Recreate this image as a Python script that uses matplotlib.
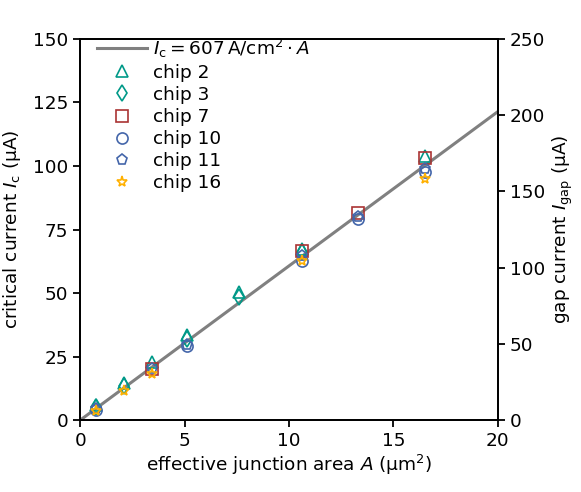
import numpy as np
import matplotlib
matplotlib.use("Agg")
import matplotlib.pyplot as plt

plt.rcParams['font.size'] = 13.3
plt.rcParams['mathtext.fontset'] = 'dejavusans'
plt.rcParams['axes.linewidth'] = 1.3
plt.rcParams['xtick.major.width'] = 1.3
plt.rcParams['ytick.major.width'] = 1.3
plt.rcParams['xtick.major.size'] = 5
plt.rcParams['ytick.major.size'] = 5

# critical current per chip: (area in um^2, Ic in uA)
chip2_A = [0.75, 2.1, 3.45, 5.1, 7.6, 10.6, 16.5]
chip2_I = [6.0, 14.5, 23.0, 33.5, 50.5, 67.5, 104.0]
chip3_A = [0.75, 2.1, 5.1, 7.6, 10.6]
chip3_I = [5.0, 13.5, 32.0, 48.5, 66.0]
chip7_A = [3.45, 10.6, 13.3, 16.5]
chip7_I = [20.0, 66.5, 81.5, 103.0]
chip10_A = [0.75, 5.1, 10.6, 13.3, 16.5]
chip10_I = [4.0, 29.0, 62.5, 79.0, 97.5]
chip11_A = [0.75, 3.45, 5.1, 10.6, 13.3, 16.5]
chip11_I = [4.5, 20.0, 29.5, 64.5, 80.0, 99.0]
chip16_A = [0.75, 2.1, 3.45, 10.6, 16.5]
chip16_I = [3.5, 11.5, 18.0, 62.5, 95.0]

jc = 607  # A/cm^2 -> 6.07 uA per um^2
fit_A = np.array([0, 20])

fig = plt.figure(figsize=(5.81, 4.92), dpi=100)
ax = fig.add_axes([0.138, 0.146, 0.719, 0.775])

ax.plot(fit_A, jc * 1e-2 * fit_A, color='gray', lw=2.2,
        label=r'$I_\mathrm{c} = 607\,\mathrm{A/cm^2} \cdot A$', zorder=1)

teal = '#009988'
red = '#aa3333'
blue = '#4466aa'
gold = '#ffb000'
ms = 8
ax.plot(chip2_A, chip2_I, '^', ls='none', mfc='none', mec=teal, ms=ms, mew=1.2, label='chip 2')
ax.plot(chip3_A, chip3_I, 'd', ls='none', mfc='none', mec=teal, ms=ms, mew=1.2, label='chip 3')
ax.plot(chip7_A, chip7_I, 's', ls='none', mfc='none', mec=red, ms=ms, mew=1.2, label='chip 7')
ax.plot(chip10_A, chip10_I, 'o', ls='none', mfc='none', mec=blue, ms=ms, mew=1.2, label='chip 10')
ax.plot(chip11_A, chip11_I, 'p', ls='none', mfc='none', mec=blue, ms=ms, mew=1.2, label='chip 11')
ax.plot(chip16_A, chip16_I, '*', ls='none', mfc='none', mec=gold, ms=ms, mew=1.2, label='chip 16')

ax.set_xlim(0, 20)
ax.set_ylim(0, 150)
ax.set_xticks([0, 5, 10, 15, 20])
ax.set_yticks([0, 25, 50, 75, 100, 125, 150])
ax.set_xlabel(r'effective junction area $A$ ($\mathrm{\mu m^2}$)', labelpad=2)
ax.set_ylabel(r'critical current $I_\mathrm{c}$ ($\mathrm{\mu A}$)', labelpad=7)

ax2 = ax.twinx()
ax2.set_ylim(0, 250)
ax2.set_yticks([0, 50, 100, 150, 200, 250])
ax2.set_ylabel(r'gap current $I_\mathrm{gap}$ ($\mathrm{\mu A}$)')

ax.legend(loc='upper left', bbox_to_anchor=(0.023, 1.025), frameon=False,
          handlelength=2.7, handletextpad=0.3, borderaxespad=0, labelspacing=0.22)

fig.savefig('out.png', dpi=100)
